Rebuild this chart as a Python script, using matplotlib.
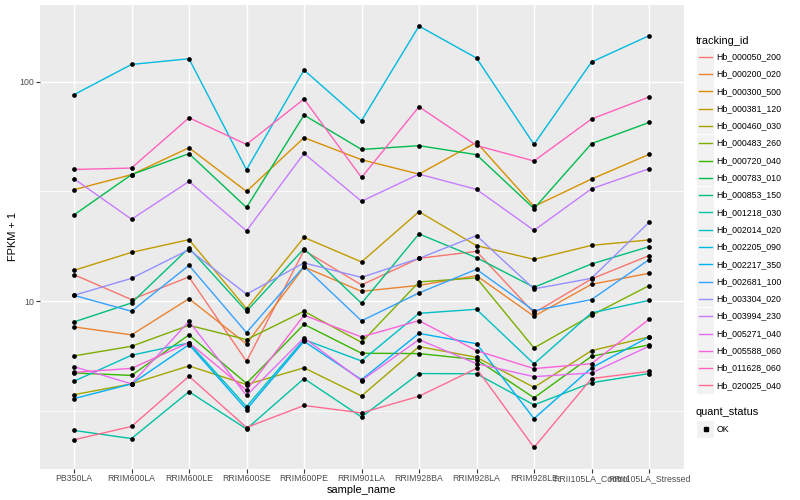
import matplotlib

matplotlib.use("Agg")
import matplotlib.pyplot as plt
import numpy as np


SAMPLES = ["PB350LA", "RRIM600LA", "RRIM600LE", "RRIM600SE", "RRIM600PE",
           "RRIM901LA", "RRIM928BA", "RRIM928LA", "RRIM928LE",
           "RRII105LA_Control", "RRII105LA_Stressed"]

TRACKING_IDS = ["Hb_000050_200", "Hb_000200_020", "Hb_000300_500", "Hb_000381_120",
                "Hb_000460_030", "Hb_000483_260", "Hb_000720_040", "Hb_000783_010",
                "Hb_000853_150", "Hb_001218_030", "Hb_002014_020", "Hb_002205_090",
                "Hb_002217_350", "Hb_002681_100", "Hb_003304_020", "Hb_003994_230",
                "Hb_005271_040", "Hb_005588_060", "Hb_011628_060", "Hb_020025_040"]

# ggplot default hue palette for 20 levels
COLORS = ["#F8766D", "#EA8331", "#D89000", "#C09B00", "#A3A500", "#7CAE00",
          "#39B600", "#00BB4E", "#00BF7D", "#00C1A3", "#00BFC4", "#00BAE0",
          "#00B0F6", "#35A2FF", "#9590FF", "#C77CFF", "#E76BF3", "#FA62DB",
          "#FF62BC", "#FF6C91"]

# FPKM + 1, one value per sample
hb_000050_200 = [13.19, 10.15, 12.88, 5.31, 17.02, 11.84, 15.65, 16.85, 8.83, 12.61, 16.11]
hb_000200_020 = [7.62, 7.01, 10.25, 6.37, 14.30, 11.07, 11.79, 13.05, 8.52, 11.92, 13.38]
hb_000300_500 = [32.2, 37.7, 50.0, 31.6, 55.6, 44.1, 37.9, 52.9, 27.0, 36.0, 46.6]
hb_000381_120 = [13.80, 16.67, 19.05, 9.23, 19.51, 15.08, 25.55, 17.89, 15.49, 17.94, 18.99]
hb_000460_030 = [3.74, 4.19, 5.06, 4.16, 4.96, 3.69, 6.20, 5.54, 4.04, 5.94, 6.86]
hb_000483_260 = [5.62, 6.22, 7.75, 6.67, 8.98, 6.48, 12.22, 12.75, 6.11, 8.61, 11.75]
hb_000720_040 = [4.70, 4.58, 7.01, 4.21, 7.83, 5.78, 5.76, 5.41, 3.62, 5.60, 6.31]
hb_000783_010 = [24.7, 37.7, 47.0, 26.7, 70.5, 49.1, 51.1, 46.5, 26.4, 52.2, 65.2]
hb_000853_150 = [8.03, 9.80, 17.46, 8.98, 17.33, 9.76, 20.23, 15.77, 11.55, 14.76, 17.70]
hb_001218_030 = [2.57, 2.36, 3.86, 2.61, 4.43, 2.96, 4.67, 4.66, 3.36, 4.24, 4.67]
hb_002014_020 = [4.31, 5.66, 6.44, 3.30, 6.67, 5.33, 8.79, 9.17, 5.17, 8.83, 10.07]
hb_002205_090 = [87.3, 119.9, 127.3, 39.7, 113.1, 66.4, 179.4, 128.2, 51.8, 123.0, 162.1]
hb_002217_350 = [3.59, 4.19, 6.33, 3.20, 6.55, 4.38, 7.12, 6.39, 2.91, 4.96, 6.86]
hb_002681_100 = [10.62, 8.98, 14.55, 7.18, 14.39, 8.12, 10.89, 13.95, 9.04, 10.15, 15.44]
hb_003304_020 = [10.62, 12.69, 17.15, 10.75, 14.92, 12.82, 15.65, 19.87, 11.36, 12.69, 22.85]
hb_003994_230 = [36.1, 23.6, 35.1, 20.9, 47.1, 28.5, 37.9, 32.3, 21.0, 32.5, 40.1]
hb_005271_040 = [5.02, 4.19, 8.08, 3.71, 6.79, 4.34, 6.67, 5.18, 4.52, 4.70, 6.22]
hb_005588_060 = [4.73, 4.93, 6.46, 3.92, 8.61, 6.86, 8.14, 5.94, 4.92, 5.18, 8.25]
hb_011628_060 = [39.8, 40.4, 68.5, 51.8, 83.4, 36.6, 76.9, 51.2, 43.5, 67.6, 85.2]
hb_020025_040 = [2.33, 2.68, 4.54, 2.65, 3.34, 3.09, 3.68, 4.93, 2.15, 4.43, 4.78]

SERIES = [hb_000050_200, hb_000200_020, hb_000300_500, hb_000381_120, hb_000460_030,
          hb_000483_260, hb_000720_040, hb_000783_010, hb_000853_150, hb_001218_030,
          hb_002014_020, hb_002205_090, hb_002217_350, hb_002681_100, hb_003304_020,
          hb_003994_230, hb_005271_040, hb_005588_060, hb_011628_060, hb_020025_040]

W, H = 800, 500
PANEL_BG = "#EBEBEB"
TEXT_GREY = "#4D4D4D"


def px(x, y):
    return x / W, 1 - y / H


def draw_panel(fig):
    ax = fig.add_axes([39.5 / W, 1 - 468.5 / H, 644 / W, 463.5 / H])
    ax.set_facecolor(PANEL_BG)
    for side in ax.spines.values():
        side.set_visible(False)

    x = np.arange(1, len(SAMPLES) + 1)
    for values, color in zip(SERIES, COLORS):
        ax.plot(x, values, color=color, lw=1.0, zorder=3)
    for values in SERIES:
        ax.plot(x, values, ls="none", marker="o", ms=3.4, color="black",
                markeredgewidth=0, zorder=4)

    ax.set_yscale("log")
    all_vals = np.log10(np.concatenate([np.array(s) for s in SERIES]))
    lo, hi = all_vals.min(), all_vals.max()
    pad = 0.05 * (hi - lo)
    ax.set_ylim(10 ** (lo - pad), 10 ** (hi + pad))
    ax.set_xlim(0.4, len(SAMPLES) + 0.6)

    ax.set_yticks([10, 100])
    ax.set_yticklabels(["10", "100"])
    ax.set_yticks([10 ** 0.5, 10 ** 1.5], minor=True)
    ax.yaxis.set_minor_formatter(plt.NullFormatter())
    ax.set_xticks(x)
    ax.set_xticklabels(SAMPLES)

    ax.grid(which="major", color="white", lw=1.05, zorder=1)
    ax.grid(which="minor", axis="y", color="white", lw=0.55, zorder=1)
    ax.set_axisbelow(True)
    ax.tick_params(which="major", length=2.6, width=0.8, color="#333333",
                   labelsize=6.3, labelcolor=TEXT_GREY, pad=1.5)
    ax.tick_params(which="minor", length=0)

    ax.set_xlabel("sample_name", fontsize=7.9, labelpad=1.0)
    ax.set_ylabel("FPKM + 1", fontsize=7.9, labelpad=0.5)
    return ax


def draw_legend(fig):
    fig.text(*px(696, 41), "tracking_id", fontsize=7.9, va="center", ha="left")
    for i, (name, color) in enumerate(zip(TRACKING_IDS, COLORS)):
        yc = 56.7 + 17.3 * i
        fig.patches.append(plt.Rectangle(px(697, yc + 8.5), 17 / W, 17 / H,
                                         transform=fig.transFigure,
                                         facecolor="#F2F2F2", edgecolor="none"))
        x0, y0 = px(699, yc)
        x1, _ = px(712, yc)
        fig.lines.append(plt.Line2D([x0, x1], [y0, y0], color=color, lw=1.0,
                                    transform=fig.transFigure))
        fig.text(*px(716.5, yc), name, fontsize=6.3, va="center", ha="left")

    fig.text(*px(696, 412.3), "quant_status", fontsize=7.9, va="center", ha="left")
    yc = 429.3
    fig.patches.append(plt.Rectangle(px(697, yc + 8.5), 17 / W, 17 / H,
                                     transform=fig.transFigure,
                                     facecolor="#F2F2F2", edgecolor="none"))
    fig.lines.append(plt.Line2D([px(705.5, yc)[0]], [px(705.5, yc)[1]], ls="none",
                                marker="s", ms=2.8, color="black",
                                transform=fig.transFigure))
    fig.text(*px(716.5, yc), "OK", fontsize=6.3, va="center", ha="left")


def main():
    plt.rcParams["font.family"] = ["Liberation Sans", "DejaVu Sans"]
    fig = plt.figure(figsize=(8, 5), dpi=100)
    draw_panel(fig)
    draw_legend(fig)
    fig.savefig("out.png", dpi=100)
    plt.close(fig)


if __name__ == "__main__":
    main()
